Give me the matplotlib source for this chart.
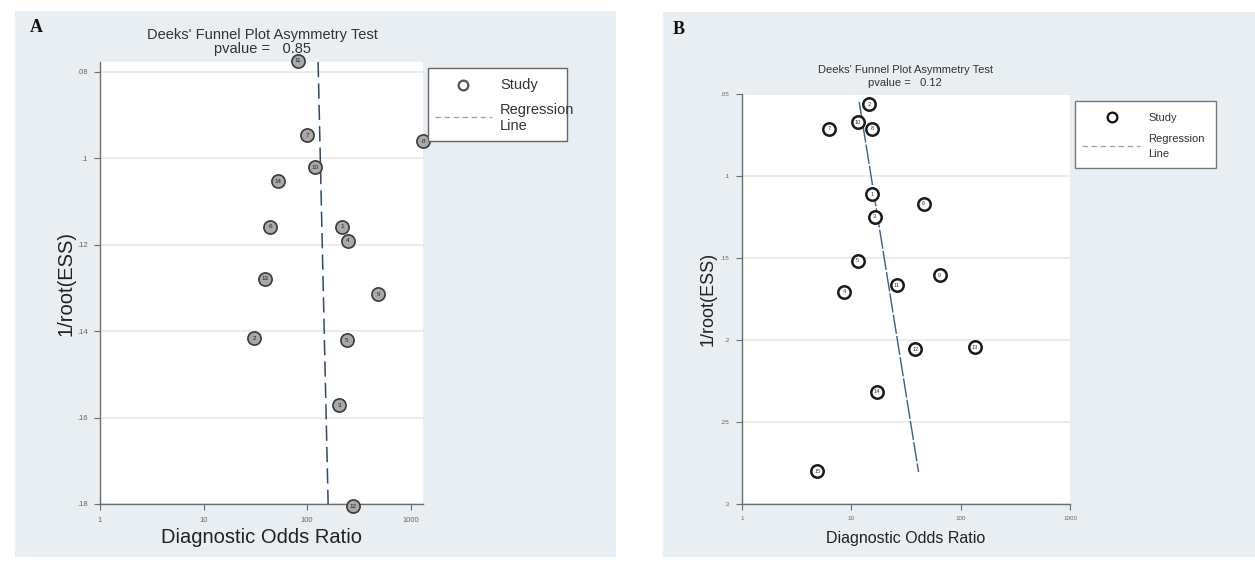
import matplotlib
matplotlib.use("Agg")
import matplotlib.pyplot as plt
from matplotlib.patches import Rectangle
from matplotlib.lines import Line2D

plt.rcParams['font.family'] = ['Liberation Sans', 'DejaVu Sans']

# ---------------- data ----------------
A_dor = [82, 100, 119, 1320, 52.6, 44, 218, 249, 39, 486, 30.7, 243, 204, 278]
A_ess = [.0774, .0947, .1021, .0960, .1053, .1158, .1158, .1191, .1279, .1314, .1416, .1421, .1572, .1805]
A_lab = [11, 7, 10, 8, 14, 6, 1, 4, 13, 9, 2, 5, 3, 12]
A_reg_dor = [128, 160]
A_reg_ess = [0.0777, 0.18]
A_yticks = [.08, .10, .12, .14, .16, .18]
A_yticklabels = ['.08', '.1', '.12', '.14', '.16', '.18']
A_pvalue = 0.85

B_dor = [14.6, 6.28, 11.4, 15.6, 15.6, 45.8, 16.3, 11.4, 64.2, 8.63, 25.9, 38.6, 134, 17, 4.88]
B_ess = [.0561, .0713, .0671, .0713, .111, .117, .125, .1518, .1604, .1707, .1665, .2055, .2043, .2317, .2799]
B_lab = [2, 7, 10, 8, 1, 6, 3, 5, 9, 4, 11, 12, 13, 14, 15]
B_reg_dor = [11.8, 41.2]
B_reg_ess = [0.0549, 0.2805]
B_yticks = [.05, .10, .15, .20, .25, .30]
B_yticklabels = ['.05', '.1', '.15', '.2', '.25', '.3']
B_pvalue = 0.12

xticks = [1, 10, 100, 1000]
xticklabels = ['1', '10', '100', '1000']

W, H = 1255, 562
fig = plt.figure(figsize=(W / 100, H / 100), dpi=100, facecolor='white')

def fx(x):
    return x / W

def fy(y):
    return 1 - y / H

PANEL_BG = '#e8eef1'

def panel(x0, y0, x1, y1):
    fig.add_artist(Rectangle((fx(x0), fy(y1)), fx(x1) - fx(x0), fy(y0) - fy(y1),
                             transform=fig.transFigure, facecolor=PANEL_BG,
                             edgecolor='none', zorder=0))

panel(15, 11, 616, 557)
panel(663, 12, 1255, 557)

def make_axes(l, t, r, b):
    ax = fig.add_axes([fx(l), fy(b), fx(r) - fx(l), fy(t) - fy(b)])
    ax.set_facecolor('white')
    for s in ['top', 'right']:
        ax.spines[s].set_visible(False)
    for s in ['left', 'bottom']:
        ax.spines[s].set_color('#6d6d6d')
        ax.spines[s].set_linewidth(1.0)
    ax.set_xscale('log')
    return ax

def style(ax, yticks, yticklabels, tick_fs):
    ax.set_xticks(xticks)
    ax.set_xticklabels(xticklabels)
    ax.xaxis.set_minor_locator(matplotlib.ticker.NullLocator())
    ax.set_yticks(yticks)
    ax.set_yticklabels(yticklabels)
    ax.tick_params(axis='both', direction='out', length=4, width=0.8,
                   color='#6d6d6d', labelcolor='#666666', labelsize=tick_fs, pad=5)
    ax.grid(axis='y', color='#ececec', linewidth=1.5)
    ax.set_axisbelow(True)

# ---------------- Panel A ----------------
axA = make_axes(100, 62, 423, 504)
axA.set_xlim(1, 1320)
axA.set_ylim(0.18, 0.0777)
style(axA, A_yticks, A_yticklabels, 5.5)
axA.plot(A_reg_dor, A_reg_ess, color='#2f4a6a', lw=1.1, ls=(0, (10, 4)), zorder=2)
axA.scatter(A_dor, A_ess, s=90, facecolor='#a9a9a9', edgecolor='#3a3a3a',
            linewidth=1.2, zorder=3, clip_on=False)
for x, y, l in zip(A_dor, A_ess, A_lab):
    axA.text(x, y, str(l), fontsize=4.5, color='#222222', ha='center', va='center',
             zorder=4, clip_on=False)
axA.set_xlabel('Diagnostic Odds Ratio', fontsize=14.5, color='#222222', labelpad=3)
axA.set_ylabel('1/root(ESS)', fontsize=14.5, color='#222222', labelpad=1)

fig.text(fx(262), fy(35), "Deeks' Funnel Plot Asymmetry Test", fontsize=10.5,
         color='#333333', ha='center', va='center')
fig.text(fx(262), fy(49), f"pvalue =   {A_pvalue:.2f}", fontsize=10.5,
         color='#333333', ha='center', va='center')
fig.text(fx(36), fy(27), 'A', fontsize=13, fontweight='bold', family='Liberation Serif',
         ha='center', va='center', color='#111111')

# legend A
fig.add_artist(Rectangle((fx(428), fy(141)), fx(567) - fx(428), fy(68) - fy(141),
                         transform=fig.transFigure, facecolor='white',
                         edgecolor='#666666', linewidth=1.0, zorder=5))
fig.add_artist(Line2D([fx(463)], [fy(85)], marker='o', markersize=7,
                      markerfacecolor='white', markeredgecolor='#555555',
                      markeredgewidth=1.6, transform=fig.transFigure, zorder=6))
fig.add_artist(Line2D([fx(435), fx(492)], [fy(117), fy(117)], color='#9aa5ad',
                      lw=1.0, ls=(0, (4, 2.5)), transform=fig.transFigure, zorder=6))
fig.text(fx(500), fy(85), 'Study', fontsize=10.5, color='#333333', va='center', zorder=7)
fig.text(fx(500), fy(110), 'Regression', fontsize=10.5, color='#333333', va='center', zorder=7)
fig.text(fx(500), fy(126), 'Line', fontsize=10.5, color='#333333', va='center', zorder=7)

# ---------------- Panel B ----------------
axB = make_axes(742, 94, 1070, 504)
axB.set_xlim(1, 1000)
axB.set_ylim(0.3, 0.05)
style(axB, B_yticks, B_yticklabels, 4.5)
axB.plot(B_reg_dor, B_reg_ess, color='#3b5f88', lw=1.0, ls=(0, (14, 1.5)), zorder=2)
axB.scatter(B_dor, B_ess, s=80, facecolor='white', edgecolor='#1a1a1a',
            linewidth=1.8, zorder=3, clip_on=False)
for x, y, l in zip(B_dor, B_ess, B_lab):
    axB.text(x, y, str(l), fontsize=4, color='#333333', ha='center', va='center',
             zorder=4, clip_on=False)
axB.set_xlabel('Diagnostic Odds Ratio', fontsize=11.5, color='#222222', labelpad=7)
axB.set_ylabel('1/root(ESS)', fontsize=13, color='#222222', labelpad=3)

fig.text(fx(905), fy(70), "Deeks' Funnel Plot Asymmetry Test", fontsize=8,
         color='#333333', ha='center', va='center')
fig.text(fx(905), fy(83), f"pvalue =   {B_pvalue:.2f}", fontsize=8,
         color='#333333', ha='center', va='center')
fig.text(fx(679), fy(30), 'B', fontsize=13, fontweight='bold', family='Liberation Serif',
         ha='center', va='center', color='#111111')

# legend B
fig.add_artist(Rectangle((fx(1075), fy(168)), fx(1216) - fx(1075), fy(101) - fy(168),
                         transform=fig.transFigure, facecolor='white',
                         edgecolor='#777777', linewidth=1.0, zorder=5))
fig.add_artist(Line2D([fx(1112)], [fy(117)], marker='o', markersize=7,
                      markerfacecolor='white', markeredgecolor='#111111',
                      markeredgewidth=1.6, transform=fig.transFigure, zorder=6))
fig.add_artist(Line2D([fx(1082), fx(1140)], [fy(146), fy(146)], color='#9aa5ad',
                      lw=1.0, ls=(0, (4, 2.5)), transform=fig.transFigure, zorder=6))
fig.text(fx(1148), fy(118), 'Study', fontsize=8, color='#333333', va='center', zorder=7)
fig.text(fx(1148), fy(139), 'Regression', fontsize=8, color='#333333', va='center', zorder=7)
fig.text(fx(1148), fy(154), 'Line', fontsize=8, color='#333333', va='center', zorder=7)

fig.savefig('out.png', dpi=100, facecolor='white')
